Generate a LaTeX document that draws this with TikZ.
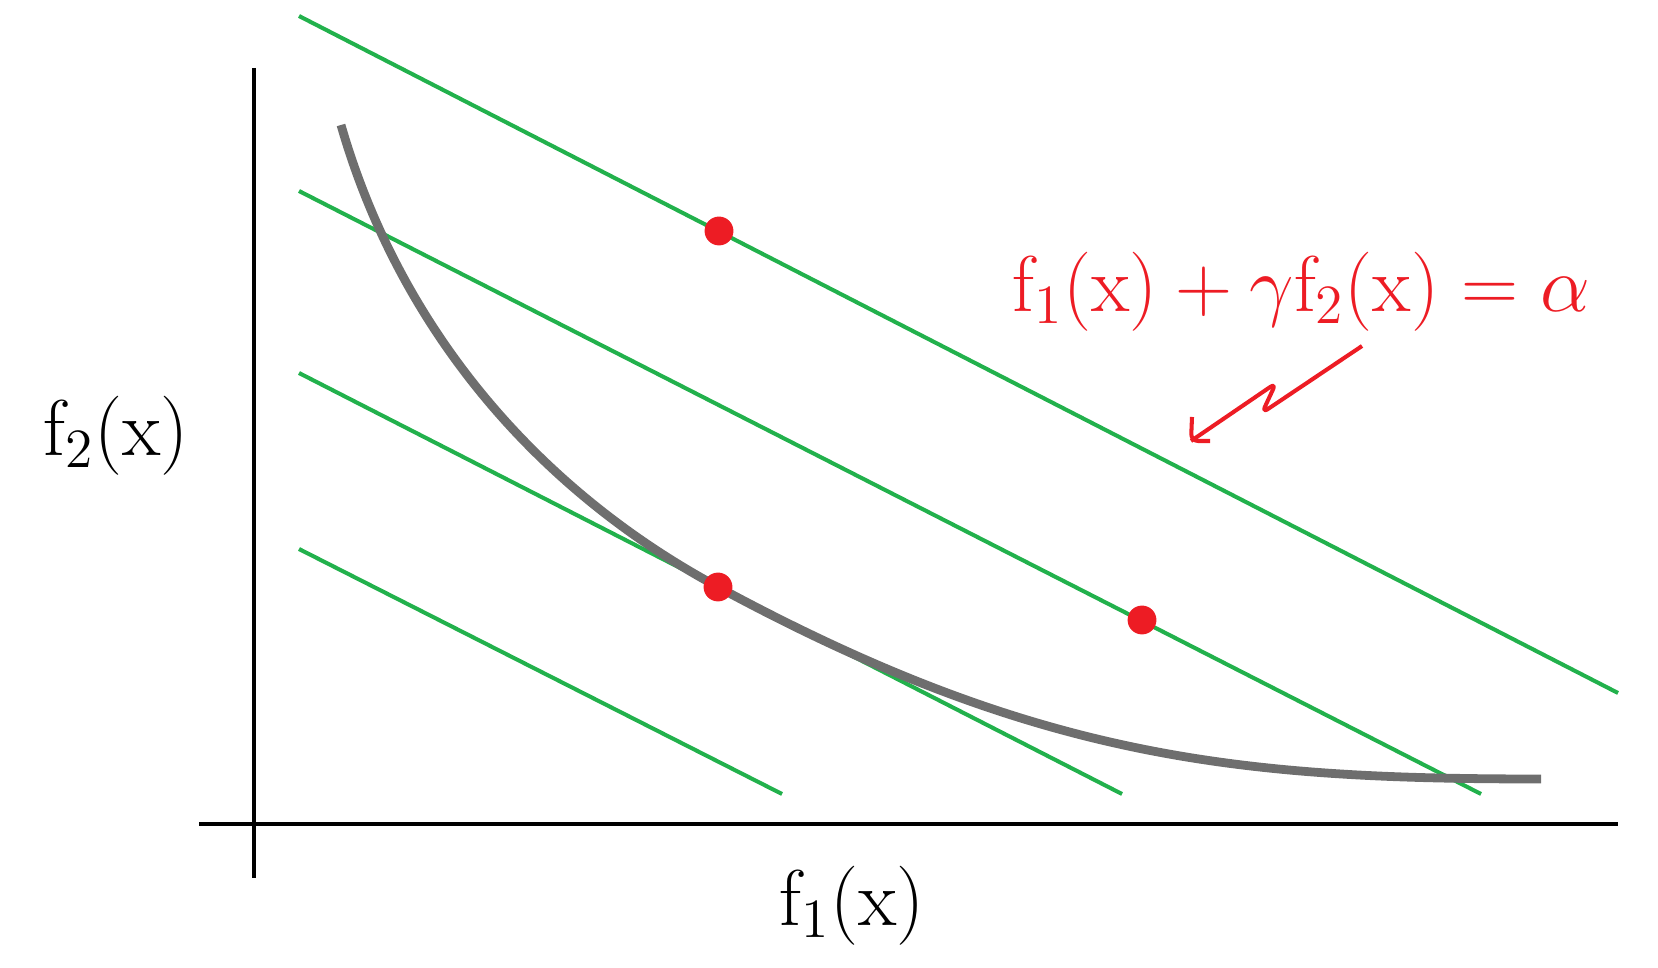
\RequirePackage{fix-cm}
\documentclass[tikz,border=0pt]{standalone}
\definecolor{linegreen}{HTML}{22B14C}
\definecolor{dotred}{HTML}{ED1C24}
\definecolor{curvegray}{HTML}{6E6E6E}

\begin{document}
\begin{tikzpicture}[
  x=0.01cm, y=-0.01cm, % 像素坐标
  axis/.style={draw=black, line width=1.4pt},
  level line/.style={draw=linegreen, line width=1.15pt},
  front/.style={draw=curvegray, line width=2.5pt},
  point/.style={circle, fill=dotred, inner sep=0pt, minimum size=8.2pt},
  pointer/.style={draw=dotred, line width=1.15pt, line join=round, rounded corners=2pt},
  every node/.style={font=\fontsize{22.5}{27}\selectfont},
  ]
\useasboundingbox (0,0) rectangle (1658,968);

% Axes
\draw[axis] (254,68) -- (254,878);
\draw[axis] (199,824) -- (1618,824);
\node (ylab) at (116,436) {$\mathrm{f}_2(\mathrm{x})$};
\node (xlab) at (852,906) {$\mathrm{f}_1(\mathrm{x})$};

% Level lines
\draw[level line] (299,16) -- (1618,693);
\draw[level line] (299,191) -- (1481,794);
\draw[level line] (299,373) -- (1122,794);
\draw[level line] (299,549) -- (782,794);

% Pareto front
\draw[front] (341,125) .. controls (400,330) and (538,490) .. (718,587)
  .. controls (1038,760) and (1241,779) .. (1541,779);

% Points
\node[point] (p1) at (719,231) {};
\node[point] (p2) at (718,587) {};
\node[point] (p3) at (1142,620) {};

% Label
\node[text=dotred, anchor=west] (eq) at (1000,292)
  {$\mathrm{f}_1(\mathrm{x}) + \gamma\mathrm{f}_2(\mathrm{x}) = \alpha$};
\coordinate (s0) at (1362,346);
\coordinate (s1) at (1262,413);
\coordinate (s2) at (1276,383);
\coordinate (tip) at (1191,441);
\draw[pointer] (s0) -- (s1) -- (s2) -- (tip);
\draw[pointer] (1192,417) -- (tip) -- (1210,441);

\end{tikzpicture}
\end{document}
